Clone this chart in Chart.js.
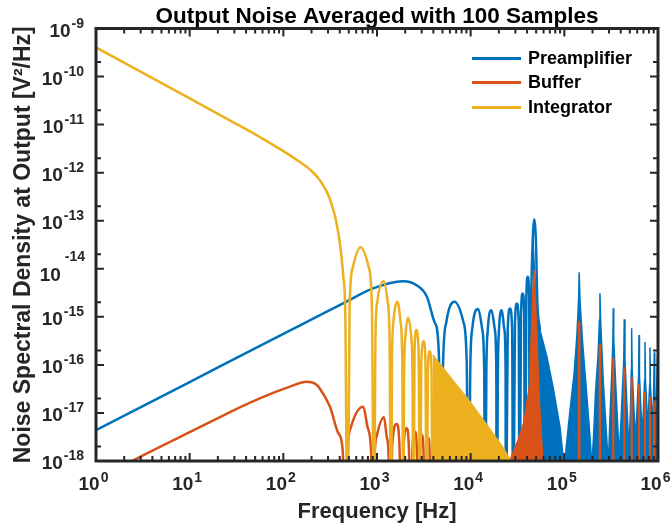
<!DOCTYPE html>
<html>
<head>
<meta charset="utf-8">
<script src="https://cdn.jsdelivr.net/npm/chart.js@4.4.0/dist/chart.umd.min.js"></script>
<style>
  html, body { margin: 0; padding: 0; background: #fff; }
  #wrap { position: relative; width: 672px; height: 531px; }
  #legend { position: absolute; left: 472px; top: 46px; font: bold 18px 'Liberation Sans', Arial, sans-serif; color: #000; }
  .row { display: flex; align-items: center; height: 24.5px; white-space: nowrap; }
  .swatch { width: 49px; height: 3px; margin-right: 7px; }
</style>
</head>
<body>
<div id="wrap">
  <canvas id="chart" width="672" height="531"></canvas>
  <div id="legend"></div>
</div>
<script>
// series names and colours (MATLAB default order)
const seriesNames = ['Preamplifier', 'Buffer', 'Integrator'];
const seriesColors = ['#0072BD', '#D95319', '#EDB120'];

// axis ticks, labels as [base, exponent]
const xTicks = [1, 10, 100, 1e3, 1e4, 1e5, 1e6];
const xTickLabels = [['10', '0'], ['10', '1'], ['10', '2'], ['10', '3'], ['10', '4'], ['10', '5'], ['10', '6']];
const yTicks = [1e-18, 1e-17, 1e-16, 1e-15, 1e-14, 1e-13, 1e-12, 1e-11, 1e-10, 1e-9];
// the -14 exponent got pushed up a line in the original figure
const yTickLabels = [['10', '-18'], ['10', '-17'], ['10', '-16'], ['10', '-15'], ['10', '-14', 'wrap'],
  ['10', '-13'], ['10', '-12'], ['10', '-11'], ['10', '-10'], ['10', '-9']];

// Preamplifier: [frequency Hz, PSD V^2/Hz]
const preampLine = [
  [1, 4.4e-18], [10, 4.4e-17], [100, 4.4e-16], [246, 1.08e-15], [478, 2.1e-15], [906, 3.9e-15],
  [1893, 5.5e-15], [2670, 4.5e-15], [3420, 2.6e-15], [4160, 7.4e-16], [4590, 1.45e-16], [4740, 1e-20],
  [5077, 1.16e-16], [5508, 7.9e-16], [6730, 2.05e-15], [8356, 7.9e-16], [9069, 1.16e-16], [9480, 1e-20],
  [9908, 8.3e-17], [1.04e4, 5.6e-16], [1.205e4, 1.46e-15], [1.327e4, 5.6e-16], [1.394e4, 8.3e-17], [1.422e4, 1e-20],
  [1.472e4, 7.8e-17], [1.523e4, 5.3e-16], [1.667e4, 1.37e-15], [1.815e4, 5.3e-16], [1.877e4, 7.8e-17], [1.896e4, 1e-20],
  [1.953e4, 7.8e-17], [2.006e4, 5.3e-16], [2.15e4, 1.37e-15], [2.296e4, 5.3e-16], [2.36e4, 7.8e-17], [2.37e4, 1e-20],
  [2.49e4, 5.7e-16], [2.63e4, 1.49e-15], [2.77e4, 5.7e-16], [2.844e4, 1e-20],
  [2.97e4, 7.3e-16], [3.11e4, 1.9e-15], [3.26e4, 7.3e-16], [3.318e4, 1e-20],
  [3.45e4, 1.17e-15], [3.59e4, 3.06e-15], [3.73e4, 1.17e-15], [3.792e4, 1e-20],
  [3.93e4, 2.6e-15], [4.07e4, 6.8e-15], [4.21e4, 2.6e-15], [4.266e4, 1e-20],
  [4.44e4, 2.2e-15], [4.56e4, 2.4e-14], [4.66e4, 7.0e-14], [4.78e4, 1.07e-13], [4.90e4, 7.0e-14],
  [5.01e4, 2.4e-14], [5.14e4, 2.2e-15], [5.5e4, 5.3e-16]
];
// dense part of the preamplifier trace (drawn filled)
const preampDense = [
  [4.63e4, 3.9e-14], [4.98e4, 2.2e-15], [5.5e4, 5.3e-16], [6.53e4, 1.45e-16], [7.57e4, 3.5e-17],
  [8.99e4, 5.1e-18], [9.92e4, 8e-19],
  [1.02e5, 8e-19], [1.04e5, 1.7e-18], [1.15e5, 1.15e-17], [1.27e5, 6.4e-17], [1.36e5, 4.0e-16],
  [1.42e5, 2.2e-15], [1.44e5, 8.5e-15], [1.47e5, 2.2e-15], [1.56e5, 3.3e-16], [1.72e5, 3.0e-17],
  [1.88e5, 3.2e-18], [1.97e5, 8e-19],
  [2.05e5, 3.2e-18], [2.15e5, 2.6e-17], [2.29e5, 1.6e-16], [2.37e5, 8.5e-16], [2.40e5, 3.1e-15],
  [2.44e5, 8.5e-16], [2.61e5, 4.2e-17], [2.83e5, 3.2e-18], [2.95e5, 8e-19],
  [3.07e5, 8.2e-18], [3.21e5, 6.7e-17], [3.30e5, 3.3e-16], [3.33e5, 1.5e-15], [3.37e5, 3.3e-16],
  [3.56e5, 3.0e-17], [3.86e5, 1.2e-18],
  [4.09e5, 1.33e-17], [4.31e5, 1.26e-16], [4.36e5, 8.9e-16], [4.44e5, 1.26e-16], [4.63e5, 1.85e-17], [4.90e5, 1.7e-18],
  [5.08e5, 1.15e-17], [5.19e5, 7.8e-17], [5.23e5, 5.8e-16], [5.30e5, 7.8e-17], [5.54e5, 1.15e-17], [5.75e5, 2.7e-18],
  [5.97e5, 1.15e-17], [6.21e5, 6.1e-17], [6.27e5, 4.2e-16], [6.34e5, 6.1e-17], [6.58e5, 1.15e-17], [6.83e5, 3.5e-18],
  [7.02e5, 1.46e-17], [7.19e5, 4.8e-17], [7.26e5, 3.0e-16], [7.35e5, 4.8e-17], [7.63e5, 1.15e-17], [7.81e5, 4.4e-18],
  [8.01e5, 1.85e-17], [8.15e5, 3.8e-17], [8.21e5, 2.3e-16], [8.29e5, 3.8e-17], [8.59e5, 1.15e-17], [8.80e5, 5.6e-18],
  [8.97e5, 2.4e-17], [9.12e5, 1.84e-16], [9.24e5, 2.4e-17], [9.51e5, 9.0e-18],
  [9.88e5, 1.6e-16], [1e6, 3e-17]
];

// Buffer
const bufferLine = [
  [1, 4.2e-19], [2.42, 1e-18], [10, 4.0e-18], [27, 1.04e-17], [44.1, 1.64e-17], [72.1, 2.47e-17],
  [117.8, 3.53e-17], [178, 4.45e-17], [218, 4.08e-17], [246, 3.2e-17], [315, 1.34e-17], [386, 3.8e-18],
  [430, 1.7e-18], [461, 1e-20],
  [486, 1.56e-18], [528, 5.1e-18], [714, 1.34e-17], [792, 5.1e-18], [865, 1.56e-18], [913, 1e-20],
  [943, 1.2e-18], [990, 3.2e-18], [1188, 8.1e-18], [1269, 3.2e-18], [1333, 1.2e-18], [1376, 1e-20],
  [1456, 2.25e-18], [1623, 5.9e-18], [1734, 2.25e-18], [1835, 1e-20],
  [1919, 1.86e-18], [2075, 4.8e-18], [2190, 1.86e-18], [2290, 1e-20],
  [2381, 1.54e-18], [2545, 4.1e-18], [2667, 1.54e-18], [2773, 1e-20],
  [2864, 1.33e-18], [3000, 3.5e-18], [3150, 1.33e-18], [3251, 1e-20],
  [3350, 1.15e-18], [3530, 3.0e-18], [3661, 1.15e-18], [3770, 1e-20]
];
const bufferDense = [
  [2.50e4, 8e-19], [3.20e4, 2.7e-18], [3.71e4, 6.5e-18], [4.25e4, 3.8e-17], [4.46e4, 5.3e-16],
  [4.63e4, 3.6e-15], [4.77e4, 9.3e-15], [4.92e4, 2.2e-15], [5.11e4, 3.3e-16], [5.39e4, 2.0e-17],
  [5.84e4, 1.33e-18], [6.06e4, 8e-19],
  [1.42e5, 8e-19], [1.42e5, 7.7e-16], [1.46e5, 7.7e-16], [1.46e5, 8e-19],
  [2.37e5, 8e-19], [2.37e5, 2.6e-16], [2.43e5, 2.6e-16], [2.43e5, 8e-19],
  [3.30e5, 8e-19], [3.30e5, 1.38e-16], [3.36e5, 1.38e-16], [3.36e5, 8e-19],
  [4.33e5, 8e-19], [4.33e5, 8.6e-17], [4.40e5, 8.6e-17], [4.40e5, 8e-19],
  [5.19e5, 8e-19], [5.19e5, 5.3e-17], [5.28e5, 5.3e-17], [5.28e5, 8e-19],
  [6.22e5, 8e-19], [6.22e5, 3.8e-17], [6.32e5, 3.8e-17], [6.32e5, 8e-19],
  [7.20e5, 8e-19], [7.20e5, 2.7e-17], [7.32e5, 2.7e-17], [7.32e5, 8e-19],
  [8.15e5, 8e-19], [8.15e5, 2.1e-17], [8.27e5, 2.1e-17], [8.27e5, 8e-19],
  [9.05e5, 8e-19], [9.05e5, 1.68e-17], [9.19e5, 1.68e-17], [9.19e5, 8e-19],
  [9.81e5, 8e-19], [9.81e5, 1.5e-17], [9.95e5, 1.5e-17], [9.95e5, 8e-19]
];

// Integrator
const integratorLine = [
  [1, 4.03e-10], [10, 3.51e-11], [29, 1.13e-11], [56.3, 5.5e-12], [99, 2.84e-12], [150.6, 1.66e-12],
  [193, 1.16e-12], [246, 6.9e-13], [315, 2.8e-13], [386, 5.75e-14], [437, 6.8e-15], [459, 1e-15], [484, 1e-20],
  [510, 1.6e-15], [552, 1.08e-14], [667, 2.8e-14], [815, 1.08e-14], [882, 1.6e-15], [929, 1e-20],
  [961, 3.1e-16], [1009, 2.1e-15], [1178, 5.5e-15], [1297, 2.1e-15], [1363, 3.1e-16], [1410, 1e-20],
  [1445, 1.16e-16], [1496, 7.7e-16], [1655, 2.05e-15], [1786, 7.7e-16], [1862, 1.16e-16], [1909, 1e-20],
  [1946, 5.5e-17], [2005, 3.7e-16], [2143, 9.6e-16], [2323, 3.7e-16], [2393, 5.5e-17], [2440, 1e-20],
  [2518, 2.03e-16], [2626, 5.3e-16], [2779, 2.03e-16], [2877, 1e-20],
  [2971, 1.2e-16], [3162, 3.1e-16], [3288, 1.2e-16], [3394, 1e-20],
  [3494, 7.4e-17], [3654, 1.93e-16], [3818, 7.4e-17], [3935, 1e-20]
];
const integratorDense = [
  [3930, 1.6e-16], [6430, 4.8e-17], [9660, 1.77e-17], [1.46e4, 5.9e-18], [2.2e4, 1.95e-18],
  [2.69e4, 1e-18], [2.9e4, 6.5e-19]
];

const FONT = "'Liberation Sans', Arial, Helvetica, sans-serif";
const toPts = arr => arr.map(([x, y]) => ({ x, y }));

function lineSet(label, data, color, order) {
  return {
    label: label, data: toPts(data), borderColor: color, backgroundColor: color,
    borderWidth: 2.5, pointRadius: 0, fill: false, order: order,
    cubicInterpolationMode: 'monotone'
  };
}
function denseSet(label, data, color, order) {
  return {
    label: label, data: toPts(data), borderColor: color, backgroundColor: color,
    borderWidth: 1.5, pointRadius: 0, fill: 'start', order: order, tension: 0
  };
}

// box with inward ticks and 10^n labels, like matlab
const boxPlugin = {
  id: 'box',
  afterDatasetsDraw(chart) {
    const { ctx, chartArea: a, scales: { x, y } } = chart;
    ctx.save();
    ctx.strokeStyle = '#262626';
    ctx.lineWidth = 2;
    ctx.beginPath();
    xTicks.forEach(d => {
      for (let m = 1; m <= 9; m++) {
        const v = d * m;
        if (v > 1e6) break;
        const px = x.getPixelForValue(v);
        const len = m === 1 ? 8 : 5;
        ctx.moveTo(px, a.bottom); ctx.lineTo(px, a.bottom - len);
        ctx.moveTo(px, a.top); ctx.lineTo(px, a.top + len);
      }
    });
    yTicks.forEach(d => {
      [1, 2].forEach(m => {
        const v = d * m;
        if (v > 1e-9) return;
        const py = y.getPixelForValue(v);
        const len = m === 1 ? 8 : 5;
        ctx.moveTo(a.left, py); ctx.lineTo(a.left + len, py);
        ctx.moveTo(a.right, py); ctx.lineTo(a.right - len, py);
      });
    });
    ctx.stroke();
    ctx.lineWidth = 3;
    ctx.strokeRect(a.left, a.top, a.right - a.left, a.bottom - a.top);

    // tick labels
    const baseFont = 'bold 19px ' + FONT;
    const expFont = 'bold 14px ' + FONT;
    ctx.fillStyle = '#262626';
    ctx.textBaseline = 'alphabetic';
    ctx.textAlign = 'left';
    xTicks.forEach((v, i) => {
      const [b, e] = xTickLabels[i];
      ctx.font = baseFont; const wb = ctx.measureText(b).width;
      ctx.font = expFont; const we = ctx.measureText(e).width;
      const x0 = x.getPixelForValue(v) - 3 - (wb + we) / 2;
      ctx.font = baseFont; ctx.fillText(b, x0, a.bottom + 29);
      ctx.font = expFont; ctx.fillText(e, x0 + wb + 1, a.bottom + 21);
    });
    yTicks.forEach((v, i) => {
      const [b, e, wrap] = yTickLabels[i];
      ctx.font = baseFont; const wb = ctx.measureText(b).width;
      ctx.font = expFont; const we = ctx.measureText(e).width;
      const py = y.getPixelForValue(v);
      const x0 = a.left - 12 - wb - we - 1;
      if (wrap) {
        ctx.font = baseFont; ctx.fillText(b, x0 - 2, py + 12);
        ctx.font = expFont; ctx.fillText(e, x0 + wb + 2, py - 8);
      } else {
        ctx.font = baseFont; ctx.fillText(b, x0, py + 8);
        ctx.font = expFont; ctx.fillText(e, x0 + wb + 1, py - 1);
      }
    });
    ctx.restore();
  }
};

const ctx = document.getElementById('chart').getContext('2d');
const chart = new Chart(ctx, {
  type: 'line',
  data: {
    datasets: [
      lineSet(seriesNames[0], preampLine, seriesColors[0], 3),
      lineSet(seriesNames[1], bufferLine, seriesColors[1], 2),
      lineSet(seriesNames[2], integratorLine, seriesColors[2], 1),
      denseSet(seriesNames[0], preampDense, seriesColors[0], 3),
      denseSet(seriesNames[1], bufferDense, seriesColors[1], 2),
      denseSet(seriesNames[2], integratorDense, seriesColors[2], 1)
    ]
  },
  options: {
    responsive: false,
    animation: false,
    devicePixelRatio: 1,
    layout: { padding: { top: 0, right: 14, bottom: 0, left: 0 } },
    plugins: {
      legend: { display: false },
      tooltip: { enabled: false },
      title: {
        display: true,
        fullSize: false,
        text: 'Output Noise Averaged with 100 Samples',
        color: '#000',
        font: { family: FONT, size: 22.5, weight: 'bold', lineHeight: 1 },
        padding: { top: 6, bottom: 0 }
      }
    },
    scales: {
      x: {
        type: 'logarithmic', min: 1, max: 1e6,
        afterBuildTicks: s => { s.ticks = xTicks.map(v => ({ value: v })); },
        afterFit: s => { s.height = 70; },
        grid: { display: false, drawTicks: false },
        border: { display: false },
        ticks: { display: false },
        title: {
          display: true, text: 'Frequency [Hz]', color: '#262626',
          font: { family: FONT, size: 22, weight: 'bold' },
          padding: { top: 0, bottom: 6 }
        }
      },
      y: {
        type: 'logarithmic', min: 1e-18, max: 1e-9,
        afterBuildTicks: s => { s.ticks = yTicks.map(v => ({ value: v })); },
        afterFit: s => { s.width = 96; },
        grid: { display: false, drawTicks: false },
        border: { display: false },
        ticks: { display: false },
        title: {
          display: true, text: 'Noise Spectral Density at Output [V²/Hz]', color: '#262626',
          font: { family: FONT, size: 23, weight: 'bold' },
          padding: { top: 10, bottom: 0 }
        }
      }
    }
  },
  plugins: [boxPlugin]
});

// legend sits inside the axes, top right
const legend = document.getElementById('legend');
seriesNames.forEach((name, i) => {
  const row = document.createElement('div');
  row.className = 'row';
  const sw = document.createElement('span');
  sw.className = 'swatch';
  sw.style.background = seriesColors[i];
  const txt = document.createElement('span');
  txt.textContent = name;
  row.appendChild(sw);
  row.appendChild(txt);
  legend.appendChild(row);
});
</script>
</body>
</html>
